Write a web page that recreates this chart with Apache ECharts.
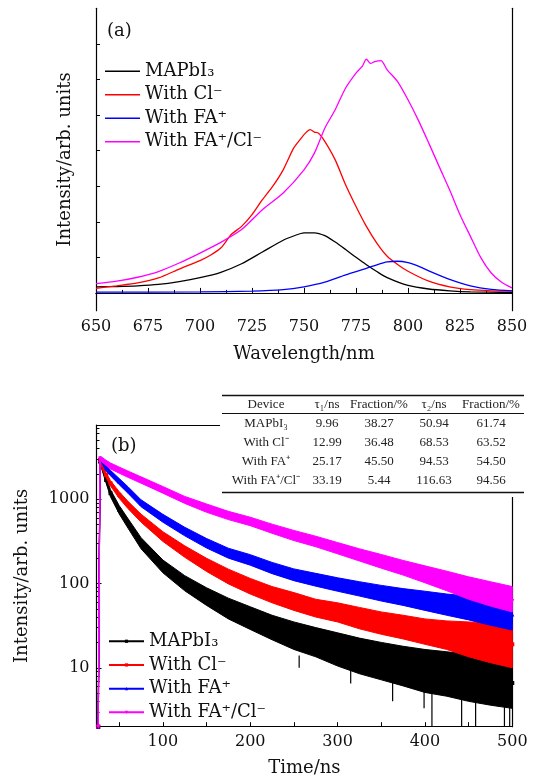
<!DOCTYPE html>
<html><head><meta charset="utf-8">
<script src="https://cdn.jsdelivr.net/npm/echarts@6/dist/echarts.min.js"></script>
<style>html,body{margin:0;padding:0;background:#fff}#c{width:534px;height:782px}</style>
</head><body><div id="c"></div>
<script>
// ---------- Panel (a): PL spectra (wavelength nm, intensity arb.) ----------
const plMAPbI3 = [[650,0.17],[660,0.18],[670,0.2],[680,0.24],[690,0.32],[700,0.43],[710,0.58],[720,0.82],[730,1.15],[740,1.48],[745,1.6],[750,1.69],[755,1.69],[760,1.61],[765,1.43],[770,1.22],[775,1.0],[780,0.79],[785,0.6],[790,0.43],[800,0.21],[810,0.11],[820,0.06],[830,0.03],[850,0.01]];
const plCl = [[650,0.13],[660,0.2],[670,0.28],[680,0.42],[690,0.67],[700,0.91],[705,1.06],[710,1.26],[715,1.64],[720,1.87],[725,2.2],[730,2.62],[735,3.0],[740,3.46],[745,4.07],[748,4.3],[750,4.45],[753,4.59],[755,4.52],[757,4.49],[760,4.26],[765,3.74],[770,3.04],[775,2.43],[780,1.87],[785,1.4],[790,1.03],[795,0.8],[800,0.61],[810,0.33],[820,0.17],[830,0.09],[840,0.06],[850,0.05]];
const plFA = [[650,0.02],[700,0.03],[725,0.05],[740,0.09],[750,0.17],[760,0.3],[770,0.51],[780,0.69],[785,0.79],[790,0.87],[795,0.89],[800,0.85],[805,0.75],[810,0.62],[820,0.38],[830,0.2],[840,0.1],[850,0.06]];
const plFACl = [[650,0.26],[660,0.33],[670,0.44],[680,0.6],[690,0.84],[700,1.12],[710,1.42],[720,1.78],[730,2.34],[740,2.81],[750,3.46],[755,3.93],[760,4.63],[765,5.15],[770,5.76],[775,6.18],[778,6.37],[780,6.57],[782,6.45],[784,6.5],[787,6.53],[790,6.27],[795,5.94],[800,5.43],[805,4.85],[810,4.21],[815,3.55],[820,2.9],[825,2.2],[830,1.59],[835,0.99],[840,0.56],[845,0.3],[850,0.14]];

// ---------- Panel (b): TRPL decay (time ns, counts) ----------
const timeB = [26,28,30,35,40,50,60,75,100,125,150,175,200,225,250,275,300,325,350,375,400,425,450,475,500];
const midMAPbI3 = [2,2800,2450,1690,1180,750,520,301,160,101,70,51,39,30,24,20,16.5,13.7,12,10.5,9.1,8.3,7.6,7.0,6.6];
const hiMAPbI3  = [2,2950,2650,1850,1300,840,590,350,190,124,89,67,53,42,35,30,26,22.5,20,18,16.5,15.5,14.5,14,13.5];
const loMAPbI3  = [2,2650,2280,1550,1070,670,455,258,134,82,55,38,28.5,21.5,16.5,13.5,10.5,8.5,7.2,6.1,5.1,4.6,4.0,3.6,3.3];
const midCl = [2,2920,2500,1940,1546,1125,857,596,362,240,167,122,93,74,62,51,45,39,34,31,27,25,23,21,19];
const hiCl  = [2,3080,2650,2080,1660,1230,945,665,412,280,199,148,115,92,78,65,59,52,46,42,38,36,35,34,33];
const loCl  = [2,2780,2360,1800,1440,1025,775,535,316,205,139,99,75,59,48,40,35,29,25,22,19,16.5,13.5,11.5,10];
const midFA = [2,3050,2850,2330,2050,1620,1290,897,596,414,301,229,191,153,127,111,97,86,77,69,62,56,51,47,43];
const hiFA  = [2,3200,3000,2500,2200,1760,1410,985,662,465,342,262,220,178,149,132,117,105,95,87,81,75,71,67,63];
const loFA  = [2,2900,2700,2170,1900,1490,1180,815,534,368,264,200,165,131,108,93,81,71,62,55,48,42,37,32,28];
const midFACl = [2,3050,2950,2700,2480,2220,1980,1690,1290,980,783,641,545,446,372,316,263,219,183,153,127,106,85,72,62];
const hiFACl  = [2,3200,3150,2900,2690,2410,2160,1845,1415,1080,878,718,612,506,426,364,306,258,221,188,162,140,120,105,92];
const loFACl  = [2,2900,2780,2520,2290,2040,1820,1550,1180,893,700,573,486,394,323,273,225,185,152,126,102,82,65,54,46];
// isolated deep noise spikes of the MAPbI3 trace: [time, top, bottom]
const spikesMAPbI3 = [[256,14,10],[315,10,6.5],[363,7,4],[399,6,3.3],[408,6,2],[442,5,2],[458,5,2],[491,5,2],[497,5,2]];
const timeLabels = [100,200,300,400,500];
const timeTicks = [50,100,150,200,250,300,350,400,450,500];
const logLabels = [10,100,1000];
const logMinor = [2,3,4,5,6,7,8,9,20,30,40,50,60,70,80,90,200,300,400,500,600,700,800,900,2000,3000,4000,5000,6000,7000];

// ---------- Table ----------
const tableHeader = ['Device','τ₁/ns','Fraction/%','τ₂/ns','Fraction/%'];
const tableDevice = ['MAPbI₃','With Cl⁻','With FA⁺','With FA⁺/Cl⁻'];
const tableTau1 = ['9.96','12.99','25.17','33.19'];
const tableFrac1 = ['38.27','36.48','45.50','5.44'];
const tableTau2 = ['50.94','68.53','94.53','116.63'];
const tableFrac2 = ['61.74','63.52','54.50','94.56'];

const names = ['MAPbI₃','With Cl⁻','With FA⁺','With FA⁺/Cl⁻'];
const colors = ['#000000','#ff0000','#0000ff','#ff00ff'];

const FONT = 'DejaVu Serif';
const chart = echarts.init(document.getElementById('c'), null, {renderer:'canvas'});

const axisLineStyle = {show:true, lineStyle:{color:'#000', width:1.2}};
const labelStyle = {color:'#111', fontFamily:FONT, fontSize:16};
const nameStyle = {color:'#111', fontFamily:FONT, fontSize:18};

function band(hi, lo, color) {
  return function(params, api) {
    if (params.dataIndex !== 0) return null;
    const pts = [];
    for (let i = 0; i < timeB.length; i++) pts.push(api.coord([timeB[i], hi[i]]));
    for (let i = timeB.length - 1; i >= 0; i--) pts.push(api.coord([timeB[i], lo[i]]));
    return {type:'polygon', shape:{points:pts}, style:{fill:color, stroke:color, lineWidth:1}};
  };
}
function spikes(list, color) {
  return function(params, api) {
    const d = list[params.dataIndex];
    const p1 = api.coord([d[0], d[1]]), p2 = api.coord([d[0], d[2]]);
    return {type:'line', shape:{x1:p1[0], y1:p1[1], x2:p2[0], y2:p2[1]}, style:{stroke:color, lineWidth:1.2}};
  };
}

const bSets = [[midMAPbI3,hiMAPbI3,loMAPbI3],[midCl,hiCl,loCl],[midFA,hiFA,loFA],[midFACl,hiFACl,loFACl]];
const bSymbols = ['rect','rect','triangle','path://M0,0 L10,0 L5,9 Z'];

const series = [];
[plMAPbI3, plCl, plFA, plFACl].forEach((d, i) => {
  series.push({name:'a'+i, type:'line', xAxisIndex:0, yAxisIndex:0, data:d, smooth:0.25,
    symbol:'none', lineStyle:{color:colors[i], width:1.3}, itemStyle:{color:colors[i]}, z:2+i});
});
bSets.forEach((s, i) => {
  series.push({name:'band'+i, type:'custom', xAxisIndex:2, yAxisIndex:2, clip:true,
    data:[[timeB[1], s[0][1]]], renderItem:band(s[1], s[2], colors[i]), z:2+i, silent:true});
  if (i === 0) {
    series.push({name:'spk0', type:'custom', xAxisIndex:2, yAxisIndex:2, clip:true,
      data:spikesMAPbI3.map(d => [d[0], d[1]]), renderItem:spikes(spikesMAPbI3, colors[0]), z:2, silent:true});
  }
  series.push({name:'b'+i, type:'line', xAxisIndex:2, yAxisIndex:2,
    data:timeB.map((t, k) => [t, s[0][k]]),
    symbol:bSymbols[i], symbolSize:4, showSymbol:true,
    lineStyle:{color:colors[i], width:1.2}, itemStyle:{color:colors[i]}, z:2+i});
});

// table graphics
const colX = [266, 327, 379, 434, 491];
const rowY = [423.5, 442.5, 461.5, 480.5];
const tFont = '13px "Liberation Serif"';
const graphics = [
  {type:'text', left:107, top:22, style:{text:'(a)', font:'18px "' + FONT + '"', fill:'#111'}},
  {type:'text', left:111, top:437, style:{text:'(b)', font:'18px "' + FONT + '"', fill:'#111'}, z:120},
  {type:'rect', shape:{x:220, y:386, width:314, height:111}, style:{fill:'#fff'}, z:100, silent:true},
  {type:'line', shape:{x1:222, y1:395.5, x2:524, y2:395.5}, style:{stroke:'#111', lineWidth:1.4}, z:110},
  {type:'line', shape:{x1:222, y1:413.5, x2:524, y2:413.5}, style:{stroke:'#111', lineWidth:1}, z:110},
  {type:'line', shape:{x1:222, y1:492.5, x2:524, y2:492.5}, style:{stroke:'#111', lineWidth:1.4}, z:110}
];
function cell(txt, x, y) {
  graphics.push({type:'text', x:x, y:y, z:110,
    style:{text:txt, font:tFont, fill:'#222', textAlign:'center', textVerticalAlign:'middle', align:'center', verticalAlign:'middle'}});
}
tableHeader.forEach((h, j) => cell(h, colX[j], 405));
[tableDevice, tableTau1, tableFrac1, tableTau2, tableFrac2].forEach((col, j) => {
  col.forEach((v, r) => cell(v, colX[j], rowY[r]));
});

const option = {
  backgroundColor:'#fff',
  animation:false,
  grid:[
    {left:96, right:22, top:8.3, bottom:471.3},
    {left:96.5, right:21.7, top:425, bottom:55.3}
  ],
  xAxis:[
    {gridIndex:0, type:'value', min:650, max:850, interval:25,
      axisLine:axisLineStyle, axisTick:{show:true, inside:true, length:5, lineStyle:{color:'#000'}},
      minorTick:{show:true, splitNumber:2, length:3, lineStyle:{color:'#000'}},
      axisLabel:Object.assign({margin:8}, labelStyle), splitLine:{show:false},
      name:'Wavelength/nm', nameLocation:'middle', nameGap:35, nameTextStyle:nameStyle},
    {gridIndex:0, type:'value', position:'top', min:650, max:850, axisLine:axisLineStyle,
      axisTick:{show:false}, axisLabel:{show:false}, splitLine:{show:false}},
    {gridIndex:1, type:'value', min:24, max:500,
      axisLine:axisLineStyle, axisTick:{show:true, inside:true, length:4.5, customValues:timeTicks, lineStyle:{color:'#000'}},
      axisLabel:Object.assign({margin:7, customValues:timeLabels}, labelStyle), splitLine:{show:false},
      name:'Time/ns', nameLocation:'middle', nameGap:33, nameTextStyle:nameStyle},
    {gridIndex:1, type:'value', position:'top', min:24, max:500, axisLine:axisLineStyle,
      axisTick:{show:false}, axisLabel:{show:false}, splitLine:{show:false}}
  ],
  yAxis:[
    {gridIndex:0, type:'value', min:-0.5, max:8,
      axisLine:axisLineStyle, axisTick:{show:true, inside:true, length:4, customValues:[0,1,2,3,4,5,6,7], lineStyle:{color:'#000'}},
      axisLabel:{show:false}, splitLine:{show:false},
      name:'Intensity/arb. units', nameLocation:'middle', nameGap:22, nameTextStyle:nameStyle},
    {gridIndex:0, type:'value', position:'right', min:-0.5, max:8, axisLine:axisLineStyle,
      axisTick:{show:false}, axisLabel:{show:false}, splitLine:{show:false}},
    {gridIndex:1, type:'log', logBase:10, min:2, max:7600,
      axisLine:axisLineStyle, axisTick:{show:true, inside:true, length:5, customValues:logLabels, lineStyle:{color:'#000'}},
      axisLabel:Object.assign({margin:7, customValues:logLabels, formatter:v => String(Math.round(v))}, labelStyle),
      splitLine:{show:false}, minorTick:{show:false},
      name:'Intensity/arb. units', nameLocation:'middle', nameGap:65, nameTextStyle:nameStyle},
    {gridIndex:1, type:'log', logBase:10, position:'right', min:2, max:7600, axisLine:axisLineStyle,
      axisTick:{show:false}, axisLabel:{show:false}, splitLine:{show:false}},
    {gridIndex:1, type:'log', logBase:10, position:'left', min:2, max:7600, axisLine:{show:false},
      axisTick:{show:true, inside:true, length:3, customValues:logMinor, lineStyle:{color:'#000'}},
      axisLabel:{show:false}, splitLine:{show:false}}
  ],
  legend:[
    {data:['a0','a1','a2','a3'].map(n => ({name:n, icon:'rect'})), orient:'vertical', left:105, top:62, padding:0,
      itemWidth:35, itemHeight:1.6, itemGap:5, formatter:n => names[+n.slice(1)],
      textStyle:{fontFamily:FONT, fontSize:18, color:'#111', lineHeight:18.5}},
    {data:['b0','b1','b2','b3'], orient:'vertical', left:108, top:632, padding:0,
      itemWidth:35, itemHeight:4, itemGap:5.2, formatter:n => names[+n.slice(1)],
      textStyle:{fontFamily:FONT, fontSize:18, color:'#111', lineHeight:18.5}}
  ],
  series:series,
  graphic:graphics
};
chart.setOption(option);
</script>
</body></html>
